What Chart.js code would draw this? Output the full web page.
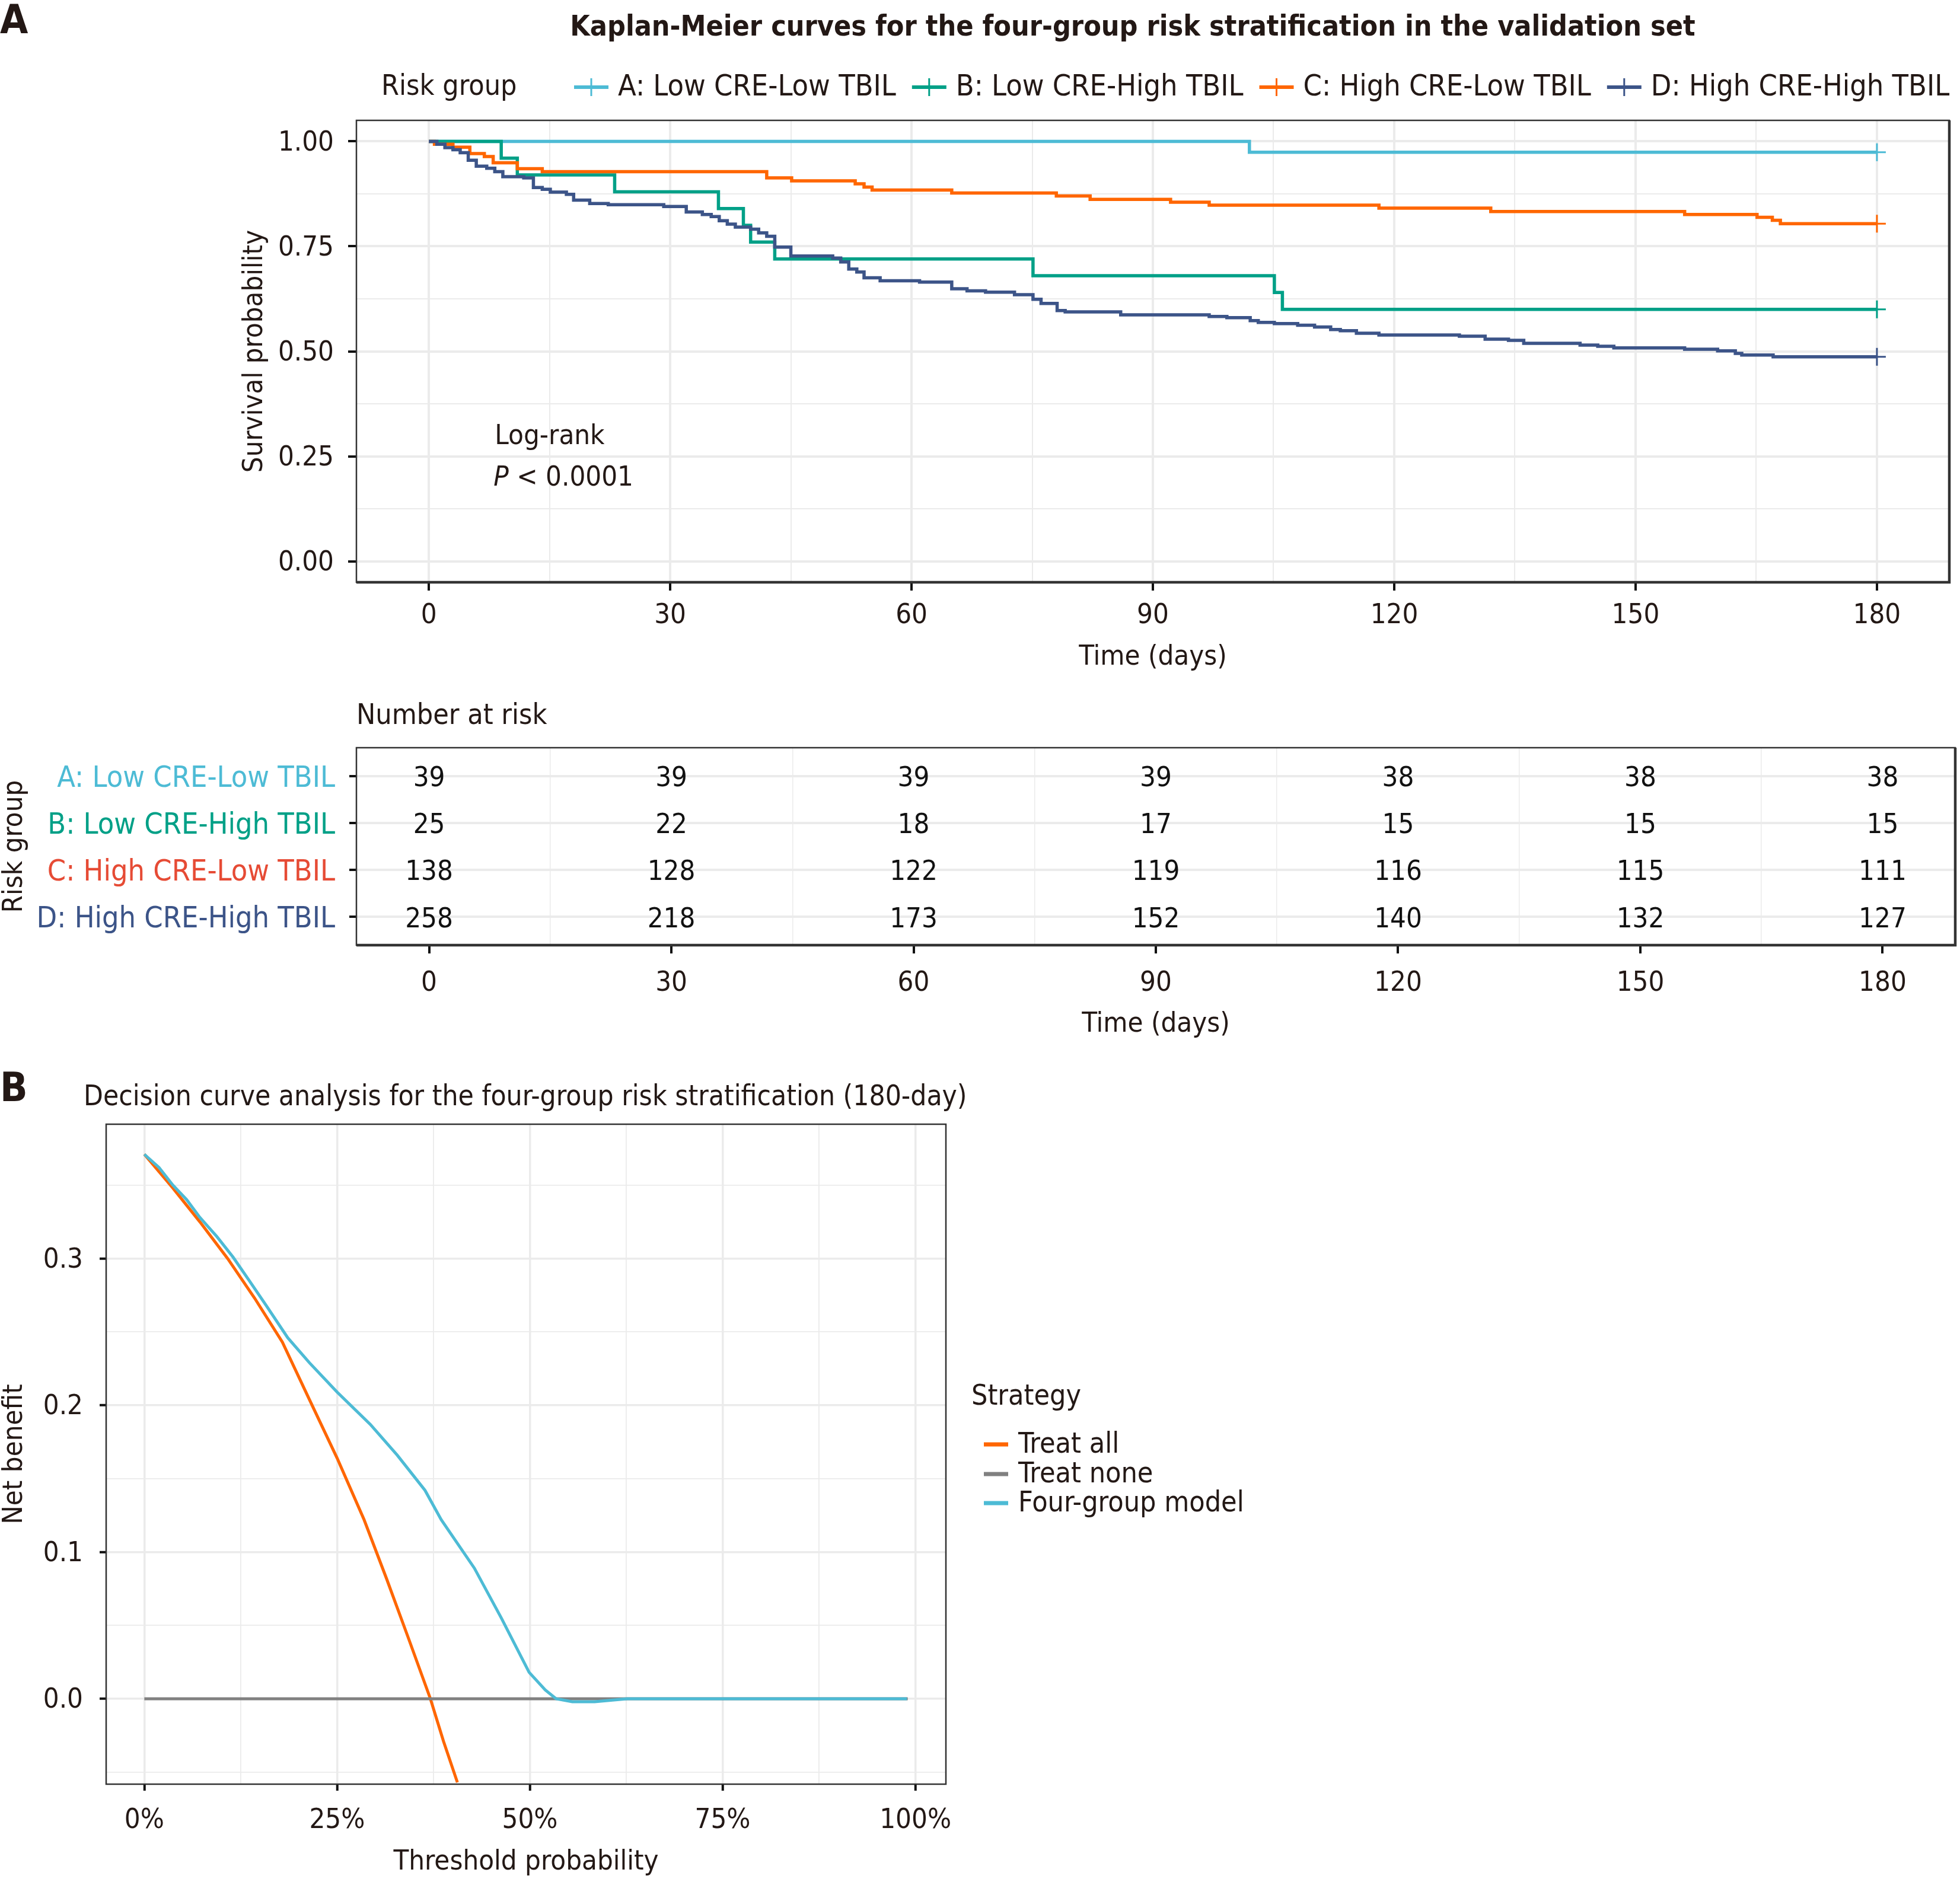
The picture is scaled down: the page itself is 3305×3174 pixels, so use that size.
<!DOCTYPE html>
<html>
<head>
<meta charset="utf-8">
<script src="https://cdn.jsdelivr.net/npm/chart.js@4.4.1/dist/chart.umd.min.js"></script>
<style>
  html, body { margin: 0; padding: 0; background: #fff; }
  #page { position: relative; width: 3305px; height: 3174px; background: #fff; overflow: hidden; }
  canvas { position: absolute; left: 0; }
</style>
</head>
<body>
<div id="page">
  <canvas id="km-chart" width="3305" height="1160" style="top:0px"></canvas>
  <canvas id="risk-table" width="3305" height="620" style="top:1160px"></canvas>
  <canvas id="dca-chart" width="3305" height="1394" style="top:1780px"></canvas>
</div>
<script>
// --- data ---
const groupNames = ['A: Low CRE-Low TBIL', 'B: Low CRE-High TBIL', 'C: High CRE-Low TBIL', 'D: High CRE-High TBIL'];
const groupColors = ['#4DBBD5', '#00A087', '#FF6600', '#3C5488'];
const tableLabelColors = ['#4DBBD5', '#00A087', '#E64B35', '#3C5488'];

const timeA = [0, 102, 180];
const survA = [1, 0.974, 0.974];

const timeB = [0, 9, 11, 23.1, 36, 39.1, 40, 43, 75.1, 105.1, 106.1, 180];
const survB = [1, 0.96, 0.92, 0.88, 0.84, 0.80, 0.76, 0.72, 0.68, 0.64, 0.60, 0.60];

const timeC = [0, 0.7, 3, 5.1, 6.9, 8, 11, 14.1, 42, 45.1, 53, 54.1, 55.1, 65, 78, 82.2, 92.2, 97, 118.1, 132, 156.1, 165.1, 167, 168, 180];
const survC = [1, 0.993, 0.986, 0.971, 0.964, 0.949, 0.935, 0.928, 0.913, 0.906, 0.899, 0.891, 0.884, 0.877, 0.870, 0.862, 0.855, 0.848, 0.841, 0.833, 0.826, 0.819, 0.812, 0.804, 0.804];

const timeD = [0, 1, 2, 3, 3.9, 4.9, 5.9, 7.2, 8.2, 9.2, 11.8, 13, 14.1, 15.1, 17.1, 18, 20, 22.3, 29.2, 32,
  34, 35.1, 36.1, 37.1, 38.1, 40, 41, 42, 43, 45, 50.2, 51.2, 52.2, 53.2, 54.1, 56.1, 61, 65, 66.9, 69.2,
  72.8, 75.1, 76.1, 78.1, 79.1, 86, 97, 99.2, 102.1, 103.1, 105.1, 108, 110.1, 112.1, 113.3, 115.3, 118.1, 128.1, 131.3, 134.2,
  136.1, 143.1, 145.3, 147.3, 156.1, 160.2, 162.4, 163.2, 167.1, 180];
const survD = [1, 0.993, 0.985, 0.980, 0.973, 0.955, 0.941, 0.936, 0.928, 0.916, 0.913, 0.890, 0.886, 0.879, 0.874, 0.860, 0.852, 0.849, 0.845, 0.832,
  0.826, 0.821, 0.811, 0.803, 0.796, 0.791, 0.782, 0.774, 0.748, 0.727, 0.722, 0.713, 0.696, 0.689, 0.675, 0.668, 0.665, 0.649, 0.644, 0.641,
  0.635, 0.624, 0.614, 0.597, 0.594, 0.587, 0.583, 0.580, 0.573, 0.569, 0.566, 0.562, 0.558, 0.552, 0.549, 0.543, 0.539, 0.536, 0.529, 0.526,
  0.519, 0.515, 0.512, 0.508, 0.505, 0.501, 0.495, 0.491, 0.487, 0.487];

const riskTimes = [0, 30, 60, 90, 120, 150, 180];
const riskA = [39, 39, 39, 39, 38, 38, 38];
const riskB = [25, 22, 18, 17, 15, 15, 15];
const riskC = [138, 128, 122, 119, 116, 115, 111];
const riskD = [258, 218, 173, 152, 140, 132, 127];

const kmXMajor = [0, 30, 60, 90, 120, 150, 180];
const kmXMinor = [15, 45, 75, 105, 135, 165];
const kmYMajor = [0, 0.25, 0.5, 0.75, 1];
const kmYMinor = [0.125, 0.375, 0.625, 0.875];
const logRankAt = [8.2, 0.297, 0.199];   // days, survival of the two text lines

const treatAllX = [0, 3.7, 7.2, 10.8, 14.3, 17.9, 21.4, 25.0, 28.5, 31.4, 34.2, 37.1, 38.8, 40.6];
const treatAllY = [0.371, 0.348, 0.325, 0.300, 0.273, 0.243, 0.204, 0.164, 0.122, 0.082, 0.042, 0, -0.029, -0.057];
const treatNoneX = [0, 99];
const treatNoneY = [0, 0];
const modelX = [0, 1.9, 3.7, 5.5, 7.2, 9.4, 11.5, 13.6, 15.8, 18.6, 21.4, 25.0, 29.3, 32.8, 36.4, 38.5, 42.8, 46.3, 49.9, 52.0, 53.4, 55.5, 58.4, 62.6, 98.9];
const modelY = [0.371, 0.362, 0.350, 0.340, 0.328, 0.315, 0.301, 0.285, 0.268, 0.246, 0.229, 0.209, 0.187, 0.166, 0.142, 0.122, 0.089, 0.055, 0.018, 0.006, 0, -0.002, -0.002, 0, 0];

const dcaXMajor = [0, 25, 50, 75, 100];
const dcaXMinor = [12.5, 37.5, 62.5, 87.5];
const dcaYMajor = [0, 0.1, 0.2, 0.3];
const dcaYMinor = [-0.05, 0.05, 0.15, 0.25, 0.35];

// --- styling ---
const TEXT = '#231815';
const GRID = '#EBEBEB';
const FONT = '"DejaVu Sans Condensed", "DejaVu Sans", sans-serif';
Chart.defaults.font.family = FONT;
Chart.defaults.color = TEXT;

// canvas "middle" sits a little high for this face, nudge plugin text down
function drawLabel(ctx, text, x, y, font, color, align) {
    ctx.save();
    ctx.font = font;
    ctx.fillStyle = color;
    ctx.textAlign = align || 'left';
    ctx.textBaseline = 'middle';
    ctx.fillText(text, x, y + 5);
    ctx.restore();
}

function toPoints(xs, ys) {
    return xs.map((x, i) => ({ x: x, y: ys[i] }));
}

function setTicks(values) {
    return scale => { scale.ticks = values.slice().sort((a, b) => a - b).map(v => ({ value: v })); };
}

function gridFor(major, majorWidth, minorWidth, tickLength, showMajorLine = true) {
    const isMajor = c => c.tick && major.includes(c.tick.value);
    return {
        color: c => (isMajor(c) && !showMajorLine) ? 'rgba(0,0,0,0)' : GRID,
        lineWidth: c => isMajor(c) ? majorWidth : minorWidth,
        tickColor: c => isMajor(c) ? '#111111' : 'rgba(0,0,0,0)',
        tickWidth: 4,
        tickLength: tickLength
    };
}

const panelBox = {
    id: 'panelBox',
    afterDatasetsDraw(chart, args, opts) {
        const { ctx, chartArea: a } = chart;
        ctx.save();
        ctx.strokeStyle = '#333333';
        ctx.lineWidth = 2.5;
        ctx.strokeRect(a.left, a.top, a.right - a.left, a.bottom - a.top);
        if (opts.heavy) {
            ctx.lineWidth = 4.5;
            ctx.beginPath();
            ctx.moveTo(a.left, a.bottom);
            ctx.lineTo(a.right, a.bottom);
            ctx.lineTo(a.right, a.top);
            ctx.stroke();
        }
        ctx.restore();
    }
};

const baseOptions = {
    responsive: false,
    animation: false,
    devicePixelRatio: 1,
    events: []
};

// --- A: Kaplan-Meier curves ---
const kmTimes = [timeA, timeB, timeC, timeD];
const kmSurv = [survA, survB, survC, survD];

const kmExtras = {
    id: 'kmExtras',
    afterDraw(chart) {
        const { ctx, scales: { x, y } } = chart;
        drawLabel(ctx, 'A', 0, 33, 'bold 68px ' + FONT, TEXT);
        drawLabel(ctx, 'Kaplan-Meier curves for the four-group risk stratification in the validation set',
            1910, 43, 'bold 48px ' + FONT, TEXT, 'center');

        // legend row
        const ly = 143;
        drawLabel(ctx, 'Risk group', 643, ly, '48px ' + FONT, TEXT);
        let keyX = 997;
        groupNames.forEach((name, i) => {
            ctx.save();
            ctx.strokeStyle = groupColors[i];
            ctx.lineWidth = 6;
            ctx.beginPath();
            ctx.moveTo(keyX - 29, ly + 4); ctx.lineTo(keyX + 29, ly + 4);
            ctx.stroke();
            ctx.lineWidth = 3;
            ctx.beginPath();
            ctx.moveTo(keyX, ly - 11); ctx.lineTo(keyX, ly + 19);
            ctx.stroke();
            ctx.restore();
            drawLabel(ctx, name, keyX + 45, ly, '50px ' + FONT, TEXT);
            ctx.font = '50px ' + FONT;
            keyX = keyX + 45 + ctx.measureText(name).width + 56;
        });

        // log-rank annotation
        const lx = x.getPixelForValue(logRankAt[0]);
        drawLabel(ctx, 'Log-rank', lx, y.getPixelForValue(logRankAt[1]) - 4, '47px ' + FONT, TEXT);
        const py = y.getPixelForValue(logRankAt[2]) - 4;
        ctx.font = 'italic 47px ' + FONT;
        const pw = ctx.measureText('P').width;
        drawLabel(ctx, 'P', lx - 2, py, 'italic 47px ' + FONT, TEXT);
        drawLabel(ctx, ' < 0.0001', lx - 2 + pw, py, '47px ' + FONT, TEXT);
    }
};

new Chart(document.getElementById('km-chart'), {
    type: 'line',
    data: {
        datasets: groupNames.map((name, i) => ({
            label: name,
            data: toPoints(kmTimes[i], kmSurv[i]),
            borderColor: groupColors[i],
            backgroundColor: groupColors[i],
            borderWidth: 5.5,
            stepped: true,
            fill: false,
            order: 3 - i,
            pointStyle: 'cross',
            pointRadius: c => c.dataIndex === kmTimes[i].length - 1 ? 15 : 0,
            pointBorderWidth: 3,
            pointBorderColor: groupColors[i],
            pointHoverRadius: 0
        }))
    },
    options: Object.assign({}, baseOptions, {
        layout: { padding: { left: 0, top: 203, right: 8, bottom: 27.5 } },
        plugins: { legend: { display: false }, tooltip: { enabled: false }, panelBox: { heavy: true } },
        scales: {
            x: {
                type: 'linear', min: -9, max: 189,
                afterBuildTicks: setTicks(kmXMajor.concat(kmXMinor)),
                afterFit: s => { s.height = 150.5; },
                border: { display: false },
                grid: gridFor(kmXMajor, 4, 2, 14),
                ticks: { autoSkip: false, maxRotation: 0, padding: 14.8, font: { size: 47 },
                    callback: v => kmXMajor.includes(v) ? String(v) : '' },
                title: { display: true, text: 'Time (days)', font: { size: 47, lineHeight: 1 }, padding: { top: 0, bottom: 0 } }
            },
            y: {
                type: 'linear', min: -0.05, max: 1.05,
                afterBuildTicks: setTicks(kmYMajor.concat(kmYMinor)),
                afterFit: s => { s.width = 601; },
                border: { display: false },
                grid: gridFor(kmYMajor, 4, 2, 14),
                ticks: { autoSkip: false, padding: 24, labelOffset: 3, font: { size: 47 },
                    callback: v => kmYMajor.includes(v) ? v.toFixed(2) : '' },
                title: { display: true, text: 'Survival probability', font: { size: 47, lineHeight: 1 }, padding: { top: 406, bottom: 0 } }
            }
        }
    }),
    plugins: [panelBox, kmExtras]
});

// --- number at risk table ---
const riskCounts = [riskA, riskB, riskC, riskD];

const riskNumbers = {
    id: 'riskNumbers',
    afterDatasetsDraw(chart) {
        const { ctx } = chart;
        chart.data.datasets.forEach((ds, i) => {
            chart.getDatasetMeta(i).data.forEach((pt, j) => {
                drawLabel(ctx, String(ds.counts[j]), pt.x, pt.y, '47px ' + FONT, '#111111', 'center');
            });
        });
        drawLabel(ctx, 'Number at risk', 601, 44, '48px ' + FONT, TEXT);
    }
};

new Chart(document.getElementById('risk-table'), {
    type: 'scatter',
    data: {
        datasets: groupNames.map((name, i) => ({
            label: name,
            counts: riskCounts[i],
            data: riskTimes.map(t => ({ x: t, y: i })),
            pointRadius: 0,
            pointHoverRadius: 0
        }))
    },
    options: Object.assign({}, baseOptions, {
        layout: { padding: { left: 0, top: 101, right: 8, bottom: 28.5 } },
        plugins: { legend: { display: false }, tooltip: { enabled: false }, panelBox: { heavy: true } },
        scales: {
            x: {
                type: 'linear', min: -9, max: 189,
                afterBuildTicks: setTicks(kmXMajor.concat(kmXMinor)),
                afterFit: s => { s.height = 157.5; },
                border: { display: false },
                grid: gridFor(kmXMajor, 2, 1.5, 14, false),
                ticks: { autoSkip: false, maxRotation: 0, padding: 22.8, font: { size: 47 },
                    callback: v => kmXMajor.includes(v) ? String(v) : '' },
                title: { display: true, text: 'Time (days)', font: { size: 47, lineHeight: 1 }, padding: { top: 0, bottom: 0 } }
            },
            y: {
                type: 'linear', min: -0.6, max: 3.6, reverse: true,
                afterBuildTicks: setTicks([0, 1, 2, 3]),
                afterFit: s => { s.width = 601; },
                border: { display: false },
                grid: { color: GRID, lineWidth: 4, tickColor: '#111111', tickWidth: 4, tickLength: 12 },
                ticks: { autoSkip: false, padding: 24, labelOffset: 5, font: { size: 50 },
                    color: c => tableLabelColors[c.index],
                    callback: v => groupNames[v] },
                title: { display: true, text: 'Risk group', font: { size: 47, lineHeight: 1 }, padding: { top: 1.5, bottom: 0 } }
            }
        }
    }),
    plugins: [panelBox, riskNumbers]
});

// --- B: decision curve analysis ---
const dcaNames = ['Treat all', 'Treat none', 'Four-group model'];
const dcaColors = ['#FF6600', '#808080', '#4DBBD5'];

const dcaExtras = {
    id: 'dcaExtras',
    afterDraw(chart) {
        const { ctx } = chart;
        drawLabel(ctx, 'B', 0, 54, 'bold 68px ' + FONT, TEXT);
        drawLabel(ctx, 'Decision curve analysis for the four-group risk stratification (180-day)',
            141, 67, '47.5px ' + FONT, TEXT);
        drawLabel(ctx, 'Strategy', 1638, 572, '48px ' + FONT, TEXT);
        const rows = [653, 703, 752];
        dcaNames.forEach((name, i) => {
            ctx.save();
            ctx.strokeStyle = dcaColors[i];
            ctx.lineWidth = 7;
            ctx.beginPath();
            ctx.moveTo(1659, rows[i] + 3); ctx.lineTo(1700, rows[i] + 3);
            ctx.stroke();
            ctx.restore();
            drawLabel(ctx, name, 1717, rows[i], '48px ' + FONT, TEXT);
        });
    }
};

new Chart(document.getElementById('dca-chart'), {
    type: 'line',
    data: {
        datasets: [
            { label: dcaNames[0], data: toPoints(treatAllX, treatAllY), order: 2 },
            { label: dcaNames[1], data: toPoints(treatNoneX, treatNoneY), order: 1 },
            { label: dcaNames[2], data: toPoints(modelX, modelY), order: 0 }
        ].map((ds, i) => Object.assign(ds, {
            borderColor: dcaColors[i],
            borderWidth: 5,
            pointRadius: 0,
            pointHoverRadius: 0,
            tension: 0,
            fill: false
        }))
    },
    options: Object.assign({}, baseOptions, {
        layout: { padding: { left: 0, top: 116, right: 1710, bottom: 9.5 } },
        plugins: { legend: { display: false }, tooltip: { enabled: false }, panelBox: { heavy: false } },
        scales: {
            x: {
                type: 'linear', min: -4.95, max: 103.95,
                afterBuildTicks: setTicks(dcaXMajor.concat(dcaXMinor)),
                afterFit: s => { s.height = 155.5; },
                border: { display: false },
                grid: gridFor(dcaXMajor, 3.5, 1.8, 11),
                ticks: { autoSkip: false, maxRotation: 0, padding: 22.8, font: { size: 47 },
                    callback: v => dcaXMajor.includes(v) ? v + '%' : '' },
                title: { display: true, text: 'Threshold probability', font: { size: 47, lineHeight: 1 }, padding: { top: 0, bottom: 0 } }
            },
            y: {
                type: 'linear', min: -0.0582, max: 0.3915,
                afterBuildTicks: setTicks(dcaYMajor.concat(dcaYMinor)),
                afterFit: s => { s.width = 179; },
                border: { display: false },
                grid: gridFor(dcaYMajor, 3.5, 1.8, 11),
                ticks: { autoSkip: false, padding: 28, labelOffset: 3, font: { size: 47 },
                    callback: v => dcaYMajor.includes(v) ? v.toFixed(1) : '' },
                title: { display: true, text: 'Net benefit', font: { size: 47, lineHeight: 1 }, padding: { top: 1.5, bottom: 0 } }
            }
        }
    }),
    plugins: [panelBox, dcaExtras]
});
</script>
</body>
</html>
